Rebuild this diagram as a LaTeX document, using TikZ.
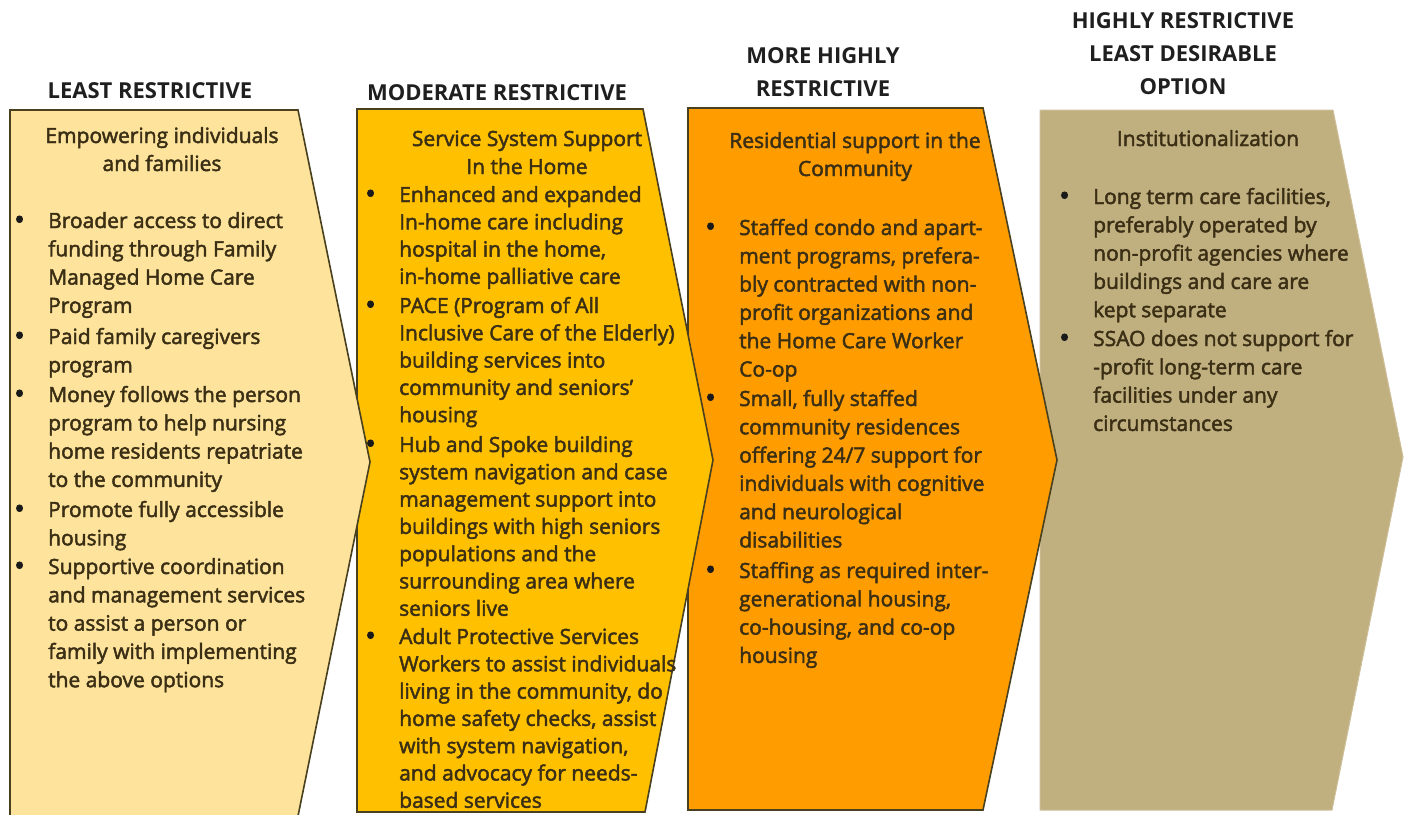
\documentclass[tikz,border=0pt]{standalone}
\usepackage{fontspec}
\setmainfont{Open Sans}
\newfontfamily\bodyface{Open Sans}[FakeBold=2.2,Ligatures=TeX]
\usetikzlibrary{positioning}

\definecolor{paleyellow}{RGB}{253,227,156}
\definecolor{amber}{RGB}{255,192,0}
\definecolor{deeporange}{RGB}{255,157,0}
\definecolor{khaki}{RGB}{192,175,127}
\definecolor{rimolive}{RGB}{72,64,30}
\definecolor{inkbrown}{RGB}{58,46,20}

\newcommand{\bodyfont}[1]{\fontsize{21}{#1}\selectfont\bodyface}
\newcommand{\headfont}{\fontsize{22}{33}\selectfont\bfseries}
\newcommand{\rows}[2][l]{\begin{tabular}[t]{@{}#1@{}}#2\end{tabular}}
\newcommand{\bullitem}[1]{\begin{tabular}[t]{@{}l@{}l@{}}\makebox[34pt][l]{\raisebox{-1.6pt}{\scalebox{1.35}{\textcolor{black!90}{\textbullet}}}}&\rows{#1}\end{tabular}}

\tikzset{
  panel/.style={draw=rimolive, line width=1.6pt, line join=miter},
  heading/.style={font=\headfont, text=black!88, anchor=base, inner sep=0pt},
  caption/.style={font=\bodyfont{28}, text=inkbrown, anchor=base, inner sep=0pt},
  point/.style={font=\bodyfont{#1}, text=inkbrown, anchor=base west, inner sep=0pt},
  point/.default=28.3
}

\begin{document}
\begin{tikzpicture}[x=1pt,y=-1pt]
\useasboundingbox (0,0) rectangle (1413,814);

% chevrons, last one first so each tip lies over the next panel
\filldraw[draw=khaki!80!white,line width=1pt,fill=khaki] (1040,110) -- (1333,110) -- (1403,457) -- (1332,810) -- (1040,810) -- cycle;
\filldraw[panel,fill=deeporange] (688,108) -- (983,108) -- (1057,460) -- (983,810) -- (688,810) -- cycle;
\filldraw[panel,fill=amber] (357,109) -- (643,109) -- (713,460) -- (645,812) -- (357,812) -- cycle;
\filldraw[panel,fill=paleyellow] (10,110) -- (298,110) -- (370,462) -- (298,816) -- (10,816) -- cycle;

% headings
\node[heading] (h1) at (150,98) {\rows[c]{LEAST RESTRICTIVE}};
\node[heading] (h2) at (497,100) {\rows[c]{MODERATE RESTRICTIVE}};
\node[heading] (h3) at (823,63) {\rows[c]{MORE HIGHLY\\RESTRICTIVE}};
\node[heading] (h4) at (1183,28) {\rows[c]{HIGHLY RESTRICTIVE\\LEAST DESIRABLE\\OPTION}};

% least restrictive
\node[caption] (t1) at (162,143) {\rows[c]{Empowering individuals\\and families}};
\node[point] (p1a) at (14,228) {\bullitem{Broader access to direct\\funding through Family\\Managed Home Care\\Program}};
\node[point] (p1b) at (14,344) {\bullitem{Paid family caregivers\\program}};
\node[point] (p1c) at (14,402) {\bullitem{Money follows the person\\program to help nursing\\home residents repatriate\\to the community}};
\node[point] (p1d) at (14,517) {\bullitem{Promote fully accessible\\housing}};
\node[point] (p1e) at (14,574) {\bullitem{Supportive coordination\\and management services\\to assist a person or\\family with implementing\\the above options}};

% moderate restrictive
\node[caption] (t2) at (527,146) {\rows[c]{Service System Support\\In the Home}};
\node[point=27.3] (p2a) at (365,202) {\bullitem{Enhanced and expanded\\In-home care including\\hospital in the home,\\in-home palliative care}};
\node[point=27.3] (p2b) at (365,313) {\bullitem{PACE (Program of All\\Inclusive Care of the Elderly)\\building services into\\community and seniors'\\housing}};
\node[point=27.3] (p2c) at (365,452) {\bullitem{Hub and Spoke building\\system navigation and case\\management support into\\buildings with high seniors\\populations and the\\surrounding area where\\seniors live}};
\node[point=27.3] (p2d) at (365,644) {\bullitem{Adult Protective Services\\Workers to assist individuals\\living in the community, do\\home safety checks, assist\\with system navigation,\\and advocacy for needs-\\based services}};

% more highly restrictive
\node[caption] (t3) at (855,148) {\rows[c]{Residential support in the\\Community}};
\node[point] (p3a) at (705,235) {\bullitem{Staffed condo and apart-\\ment programs, prefera-\\bly contracted with non-\\profit organizations and\\the Home Care Worker\\Co-op}};
\node[point] (p3b) at (705,406) {\bullitem{Small, fully staffed\\community residences\\offering 24/7 support for\\individuals with cognitive\\and neurological\\disabilities}};
\node[point] (p3c) at (705,578) {\bullitem{Staffing as required inter-\\generational housing,\\co-housing, and co-op\\housing}};

% highly restrictive
\node[caption] (t4) at (1208,146) {\rows[c]{Institutionalization}};
\node[point] (p4a) at (1059,204) {\bullitem{Long term care facilities,\\preferably operated by\\non-profit agencies where\\buildings and care are\\kept separate}};
\node[point] (p4b) at (1059,346) {\bullitem{SSAO does not support for\\-profit long-term care\\facilities under any\\circumstances}};
\end{tikzpicture}
\end{document}
